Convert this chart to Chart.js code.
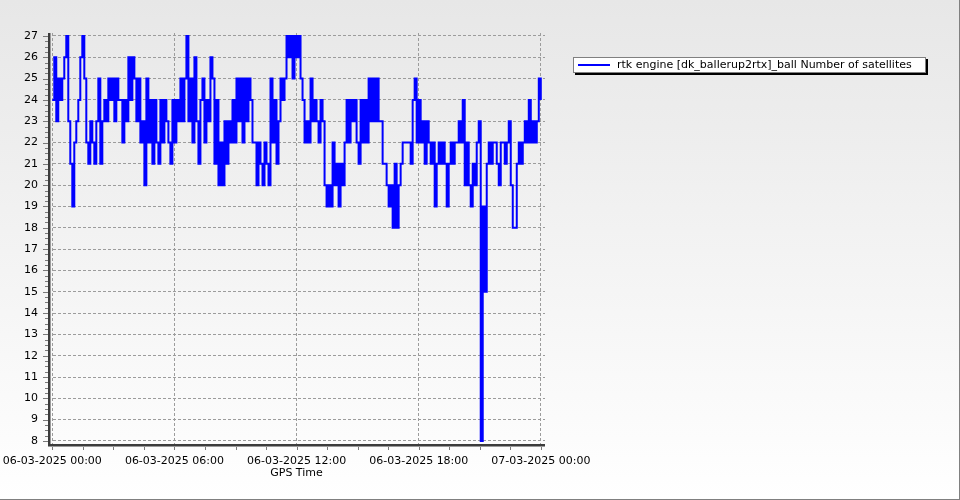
<!DOCTYPE html>
<html>
<head>
<meta charset="utf-8">
<script src="https://cdn.jsdelivr.net/npm/chart.js@4/dist/chart.umd.min.js"></script>
<style>
html,body{margin:0;padding:0;background:#ffffff;}
#wrap{width:960px;height:500px;position:relative;}
</style>
</head>
<body>
<div id="wrap"><canvas id="c" width="960" height="500"></canvas></div>
<script>
// ---- data ----
const seriesLabel = 'rtk engine [dk_ballerup2rtx]_ball Number of satellites';
const xTitle = 'GPS Time';
const xTickHours = [0, 6, 12, 18, 24];
const xTickLabels = ['06-03-2025 00:00', '06-03-2025 06:00', '06-03-2025 12:00', '06-03-2025 18:00', '07-03-2025 00:00'];
const yTickValues = [8, 9, 10, 11, 12, 13, 14, 15, 16, 17, 18, 19, 20, 21, 22, 23, 24, 25, 26, 27];
const sampleStepMinutes = 5.9; // sampling interval of the record (hours from 06-03-2025 00:00)
const satellites = [
  24,26,23,25,24,25,26,27,23,21,19,22,23,24,26,27,25,22,21,23,
  22,21,23,25,21,23,24,23,25,24,25,23,25,24,24,22,24,23,26,24,
  26,25,23,25,22,23,20,25,22,24,21,24,22,21,24,22,24,23,22,21,
  24,22,24,23,25,23,25,27,23,25,22,26,23,21,24,25,22,24,23,26,
  25,21,24,20,22,20,23,21,23,22,24,22,25,23,25,22,25,23,25,24,
  22,22,20,22,21,20,22,21,20,25,22,24,21,23,25,24,25,27,26,27,
  25,27,26,27,25,24,22,23,22,25,23,24,23,22,24,23,20,19,20,19,
  22,20,21,19,21,20,22,24,22,24,23,24,22,21,24,22,24,22,25,23,
  25,23,25,23,23,21,21,20,19,20,18,21,18,20,21,22,22,22,22,21,
  24,25,22,24,22,23,21,23,22,21,22,19,21,22,21,22,21,19,21,22,
  21,22,22,23,22,24,20,22,20,19,21,20,22,23,8,19,15,21,22,21,
  22,22,21,20,22,22,21,22,23,20,18,18,21,22,21,22,23,22,24,22,
  23,22,23,25,24
];

const points = satellites.map((v, i) => ({ x: i * sampleStepMinutes / 60, y: v }));

// ---- decoration plugin ----
const decor = {
  id: 'decor',
  beforeDraw(chart) {
    const ctx = chart.ctx, W = chart.width, H = chart.height;
    ctx.save();
    const g = ctx.createLinearGradient(0, 0, 0, H);
    g.addColorStop(0, '#e7e7e7');
    g.addColorStop(1, '#ffffff');
    ctx.fillStyle = g;
    ctx.fillRect(0, 0, W, H);
    ctx.fillStyle = '#808080';
    ctx.fillRect(W - 1, 0, 1, H);
    ctx.fillRect(0, H - 1, W, 1);
    ctx.restore();
  },
  afterDraw(chart) {
    const ctx = chart.ctx, a = chart.chartArea;
    const xs = chart.scales.x, ys = chart.scales.y;
    ctx.save();
    // minor / major ticks
    ctx.fillStyle = '#7a7a7a';
    for (let h = 0; h <= 24.001; h += 1.5) {
      const px = Math.round(xs.getPixelForValue(h));
      ctx.fillRect(px, a.bottom + 1, 1, 4);
    }
    for (let v = 8; v <= 27.001; v += 0.25) {
      const py = Math.round(ys.getPixelForValue(v));
      const major = Math.abs(v - Math.round(v)) < 1e-6;
      ctx.fillRect(major ? a.left - 5 : a.left - 3, py, major ? 5 : 3, 1);
    }
    // axis lines
    ctx.fillStyle = '#3c3c3c';
    ctx.fillRect(a.left, a.top, 2, a.bottom - a.top + 1);
    ctx.fillRect(a.left, a.bottom - 1, a.right - a.left, 2);
    ctx.fillStyle = '#9a9a9a';
    ctx.fillRect(a.left + 2, a.top, 1, a.bottom - a.top - 1);
    ctx.fillRect(a.left, a.bottom + 1, a.right - a.left, 1);

    // legend
    const bx = 573, by = 57, bw = 353, bh = 16;
    ctx.fillStyle = '#000000';
    ctx.fillRect(bx + 2, by + 2, bw, bh);
    ctx.fillStyle = '#ffffff';
    ctx.fillRect(bx, by, bw, bh);
    ctx.strokeStyle = '#808080';
    ctx.lineWidth = 1;
    ctx.strokeRect(bx + 0.5, by + 0.5, bw - 1, bh - 1);
    ctx.strokeStyle = '#0000ff';
    ctx.lineWidth = 2;
    ctx.beginPath();
    ctx.moveTo(578, 65);
    ctx.lineTo(610, 65);
    ctx.stroke();
    ctx.fillStyle = '#000000';
    ctx.font = '11px "DejaVu Sans"';
    ctx.textBaseline = 'middle';
    ctx.textAlign = 'left';
    ctx.fillText(seriesLabel, 617, 65);
    ctx.restore();
  }
};

const font = { family: '"DejaVu Sans", sans-serif', size: 11 };

new Chart(document.getElementById('c'), {
  type: 'line',
  data: {
    datasets: [{
      label: seriesLabel,
      data: points,
      borderColor: '#0000ff',
      backgroundColor: '#0000ff',
      borderWidth: 2,
      pointRadius: 0,
      stepped: true,
      fill: false
    }]
  },
  options: {
    responsive: false,
    animation: false,
    devicePixelRatio: 1,
    layout: { padding: { left: 0, right: 415, top: 33, bottom: 0 } },
    plugins: { legend: { display: false }, tooltip: { enabled: false } },
    scales: {
      x: {
        type: 'linear',
        min: -0.21,
        max: 24.2,
        afterBuildTicks(s) { s.ticks = xTickHours.map(v => ({ value: v })); },
        afterFit(s) { s.height = 55; s.paddingLeft = 0; s.paddingRight = 0; },
        ticks: {
          font: font, color: '#000000', padding: 10, maxRotation: 0, autoSkip: false,
          callback(v) { const i = xTickHours.indexOf(v); return i >= 0 ? xTickLabels[i] : ''; }
        },
        grid: { color: '#9c9c9c', lineWidth: 1, drawTicks: false },
        border: { display: false, dash: [3, 2] },
        title: { display: true, text: xTitle, font: font, color: '#000000', padding: { top: 0, bottom: 20 } }
      },
      y: {
        type: 'linear',
        min: 7.81,
        max: 27.14,
        afterBuildTicks(s) { s.ticks = yTickValues.map(v => ({ value: v })); },
        afterFit(s) { s.width = 48; },
        ticks: { font: font, color: '#000000', padding: 10, autoSkip: false },
        grid: { color: '#9c9c9c', lineWidth: 1, drawTicks: false },
        border: { display: false, dash: [3, 2] }
      }
    }
  },
  plugins: [decor]
});
</script>
</body>
</html>
